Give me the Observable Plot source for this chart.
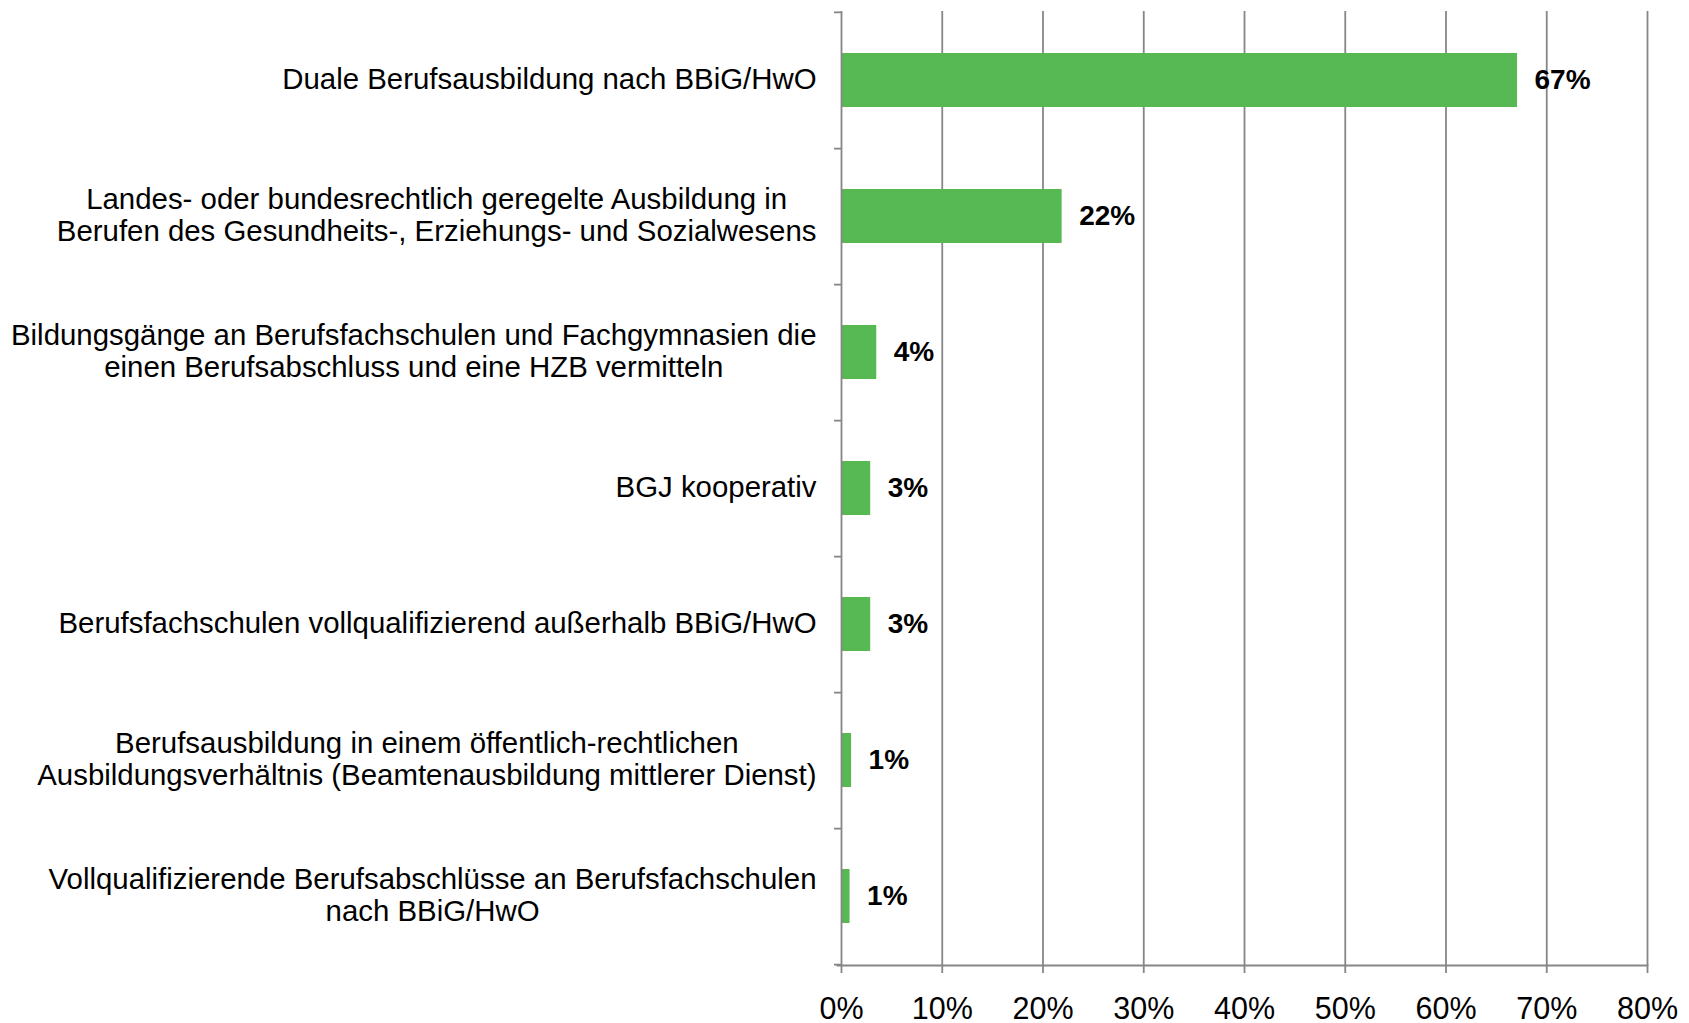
<!DOCTYPE html>
<html>
<head>
<meta charset="utf-8">
<script src="https://cdn.jsdelivr.net/npm/d3@7"></script>
<script src="https://cdn.jsdelivr.net/npm/@observablehq/plot@0.6"></script>
<style>
  html, body { margin: 0; padding: 0; background: #fff; }
</style>
</head>
<body>
<div id="chart"></div>
<script>
const categories = [
  "Duale Berufsausbildung nach BBiG/HwO",
  "Landes- oder bundesrechtlich geregelte Ausbildung in\nBerufen des Gesundheits-, Erziehungs- und Sozialwesens",
  "Bildungsgänge an Berufsfachschulen und Fachgymnasien die\neinen Berufsabschluss und eine HZB vermitteln",
  "BGJ kooperativ",
  "Berufsfachschulen vollqualifizierend außerhalb BBiG/HwO",
  "Berufsausbildung in einem öffentlich-rechtlichen\nAusbildungsverhältnis (Beamtenausbildung mittlerer Dienst)",
  "Vollqualifizierende Berufsabschlüsse an Berufsfachschulen\nnach BBiG/HwO"
];
const values = [67.1, 21.9, 3.5, 2.9, 2.9, 1.0, 0.85];
const valueLabels = ["67%", "22%", "4%", "3%", "3%", "1%", "1%"];
const xTicks = [0, 10, 20, 30, 40, 50, 60, 70, 80];

const W = 1689, H = 1023;
const mL = 841, mR = 42, mT = 11, mB = 58;
const FONT = "'Liberation Sans', Arial, Helvetica, sans-serif";
const catSize = 29.4, valSize = 28, tickSize = 30.5;
const green = "#56b954", grey = "#868686";

const data = categories.map((c, i) => ({cat: c, value: values[i], label: valueLabels[i]}));
const step = (H - mT - mB) / categories.length;

// measure label widths for centered multi-line blocks
const ctx = document.createElement("canvas").getContext("2d");
ctx.font = `${catSize}px ${FONT}`;
const blockWidth = c => Math.max(...c.split("\n").map(l => ctx.measureText(l).width));
const gap = 25;

const labelMarks = categories.map(c => Plot.text([c], {
  x: 0, y: d => d, text: d => d,
  textAnchor: "middle", lineAnchor: "middle", lineHeight: 32 / catSize,
  dx: -(gap + blockWidth(c) / 2), dy: -2,
  fontSize: catSize, fill: "#000"
}));

const chart = Plot.plot({
  width: W, height: H,
  marginLeft: mL, marginRight: mR, marginTop: mT, marginBottom: mB,
  style: {fontFamily: FONT, background: "#fff", color: "#000", overflow: "visible"},
  x: {domain: [0, 80], axis: null},
  y: {domain: categories, paddingInner: 0.6, paddingOuter: 0.3, axis: null},
  marks: [
    Plot.ruleX(xTicks.slice(1), {stroke: grey, strokeWidth: 1.8, strokeOpacity: 1}),
    Plot.barX(data, {x: "value", y: "cat", fill: green}),
    Plot.frame({anchor: "bottom", stroke: grey, strokeWidth: 1.8, insetLeft: -4}),
    Plot.ruleX([0], {stroke: grey, strokeWidth: 1.8}),
    // left tick marks at band boundaries
    Plot.ruleY(categories, {y: d => d, x1: 0, x2: 0, insetLeft: -7, dy: step / 2, stroke: grey, strokeWidth: 1.8}),
    Plot.ruleY([categories[0]], {y: d => d, x1: 0, x2: 0, insetLeft: -7, dy: -step / 2, stroke: grey, strokeWidth: 1.8}),
    Plot.axisX({ticks: xTicks, tickFormat: d => d + "%", tickSize: 8, tickPadding: 24,
      fontSize: tickSize, stroke: grey, strokeWidth: 1.8, fill: "#000", anchor: "bottom", label: null}),
    Plot.text(data, {x: "value", y: "cat", text: "label", textAnchor: "start", dx: 17, dy: 0,
      fontSize: valSize, fontWeight: "bold", fill: "#000"}),
    ...labelMarks
  ]
});
document.getElementById("chart").appendChild(chart);
</script>
</body>
</html>
